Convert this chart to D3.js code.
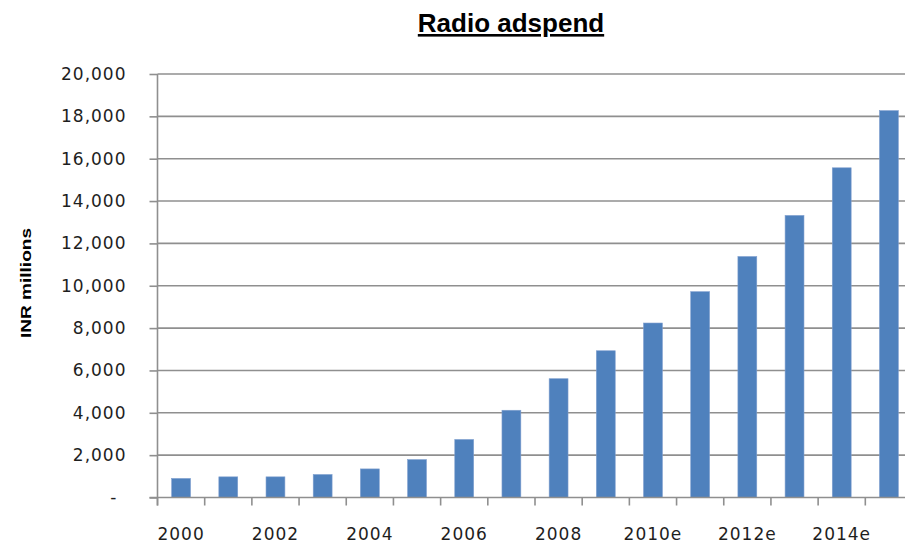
<!DOCTYPE html>
<html>
<head>
<meta charset="utf-8">
<script src="https://cdn.jsdelivr.net/npm/d3@7"></script>
<style>
  html, body { margin: 0; padding: 0; background: #fff; }
  svg { display: block; }
  .tick text { font-family: "DejaVu Sans", Verdana, sans-serif; font-size: 17px; fill: #1e1e1e; letter-spacing: 1px; }
</style>
</head>
<body>
<svg id="chart" width="905" height="547"></svg>
<script>
// Radio advertising spend in India, INR millions (e = estimate)
const years = ["2000","2001","2002","2003","2004","2005","2006","2007","2008","2009",
               "2010e","2011e","2012e","2013e","2014e","2015e"];
const spend = [900, 975, 975, 1085, 1350, 1790, 2740, 4120, 5610, 6930,
               8240, 9720, 11380, 13320, 15570, 18270];
const yTicks = [0, 2000, 4000, 6000, 8000, 10000, 12000, 14000, 16000, 18000, 20000];
const xLabels = ["2000","2002","2004","2006","2008","2010e","2012e","2014e"];

const svg = d3.select("#chart");
const plotLeft = 157.5, plotTop = 74, plotBottom = 497.5, plotRight = 912.5;

const x = d3.scaleBand().domain(years).range([plotLeft, plotRight])
  .paddingInner(0.6).paddingOuter(0.3);
const y = d3.scaleLinear().domain([0, 20000]).range([plotBottom, plotTop]);

// horizontal gridlines
svg.append("g").selectAll("line").data(yTicks.filter(d => d > 0)).join("line")
  .attr("x1", plotLeft).attr("x2", 905)
  .attr("y1", d => y(d)).attr("y2", d => y(d))
  .attr("stroke", "#8f8f8f").attr("stroke-width", 1.6);

// bars
svg.append("g").selectAll("rect").data(years).join("rect")
  .attr("x", d => x(d))
  .attr("width", x.bandwidth())
  .attr("y", (d, i) => y(spend[i]))
  .attr("height", (d, i) => plotBottom - y(spend[i]))
  .attr("fill", "#4f81bd")
  .attr("stroke", "#7f9fcf").attr("stroke-width", 0.6);

// y axis
const yAxis = svg.append("g").attr("transform", `translate(${plotLeft},0)`)
  .call(d3.axisLeft(y).tickValues(yTicks).tickSize(8).tickPadding(23)
    .tickFormat(d => d === 0 ? "-" : d3.format(",")(d)));
yAxis.select(".domain").attr("stroke", "#8f8f8f").attr("stroke-width", 1.6)
  .attr("d", `M0,${plotTop}V${plotBottom + 8}`);
yAxis.selectAll(".tick line").attr("stroke", "#8f8f8f").attr("stroke-width", 1.6);
yAxis.selectAll(".tick text").filter(d => d === 0).attr("dx", -9);

// x axis: labels on every other year, tick marks between categories
const xAxis = svg.append("g").attr("transform", `translate(0,${plotBottom})`)
  .call(d3.axisBottom(x).tickValues(xLabels).tickSize(0).tickPadding(30));
xAxis.select(".domain").attr("stroke", "#8f8f8f").attr("stroke-width", 1.6)
  .attr("d", `M${plotLeft - 8},0H905`);
const step = x.step();
const bounds = d3.range(years.length + 1).map(i => plotLeft + i * step);
xAxis.append("g").selectAll("line").data(bounds).join("line")
  .attr("x1", d => d).attr("x2", d => d).attr("y1", 0).attr("y2", 8)
  .attr("stroke", "#8f8f8f").attr("stroke-width", 1.6);

// y axis title
svg.append("text")
  .attr("transform", "translate(31,283) rotate(-90)")
  .attr("text-anchor", "middle")
  .attr("font-family", "Arial, 'Liberation Sans', sans-serif")
  .attr("font-weight", "bold").attr("font-size", 15)
  .attr("textLength", 110).attr("lengthAdjust", "spacingAndGlyphs")
  .text("INR millions");

// chart title
svg.append("text")
  .attr("x", 511).attr("y", 32)
  .attr("text-anchor", "middle")
  .attr("font-family", "Arial, 'Liberation Sans', sans-serif")
  .attr("font-weight", "bold").attr("font-size", 26)
  .attr("text-decoration", "underline")
  .text("Radio adspend");
</script>
</body>
</html>
